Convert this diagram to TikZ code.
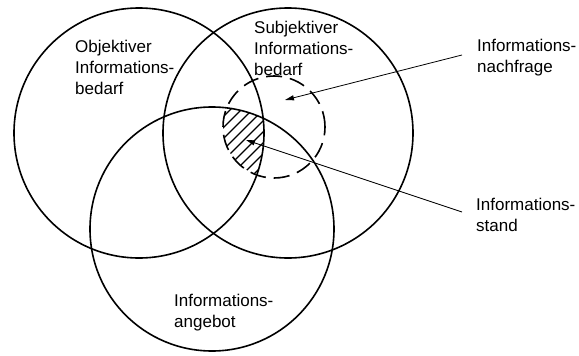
\documentclass[tikz,border=0pt]{standalone}
\usepackage{fontspec}
\setmainfont{Liberation Sans}
\usetikzlibrary{arrows.meta}

\begin{document}
\begin{tikzpicture}[x=1pt, y=-1pt,
  kreis/.style={black, line width=1.6pt},
  strich/.style={black, line width=1.6pt, dash pattern=on 16pt off 8pt},
  schraffur/.style={black, line width=1.4pt},
  marke/.style={font=\fontsize{17}{21}\selectfont, align=left, inner sep=0pt, anchor=base west},
  pfeil/.style={black, line width=0.8pt, -{Triangle[length=9pt, width=5pt]}}]

% Frame
\useasboundingbox (0,0) rectangle (579,356);

%%% Hatched area: Informationsstand %%%
\begin{scope}
  \clip (274,127) circle (51pt);
  \clip (139,133) circle (125pt);
  \clip (212,229) circle (122pt);
  \foreach \k in {340,351,...,430}
    \draw[schraffur] (\k-90,90) -- (\k-190,190);
\end{scope}

%%% Circles %%%
\draw[kreis] (139,133) circle (125pt);
\draw[kreis] (288,133) circle (125pt);
\draw[kreis] (212,229) circle (122pt);
% Nachfrage (dashed)
\draw[strich] (274,127) circle (51pt);

%%% Labels (anchored at the last line) %%%
\node[marke] (objektiv) at (75,94) {Objektiver\\Informations-\\bedarf};
\node[marke] (subjektiv) at (254,75) {Subjektiver\\Informations-\\bedarf};
\node[marke] (angebot) at (174,327) {Informations-\\angebot};
\node[marke] (nachfrage) at (477,72) {Informations-\\nachfrage};
\node[marke] (stand) at (476,231) {Informations-\\stand};

%%% Arrows %%%
\coordinate (nachfrageSpitze) at (285,100);
\coordinate (standSpitze) at (246,140);
\draw[pfeil] ([shift={(-15,-17)}]nachfrage.base west) -- (nachfrageSpitze);
\draw[pfeil] ([shift={(-14,-19)}]stand.base west) -- (standSpitze);

\end{tikzpicture}
\end{document}
